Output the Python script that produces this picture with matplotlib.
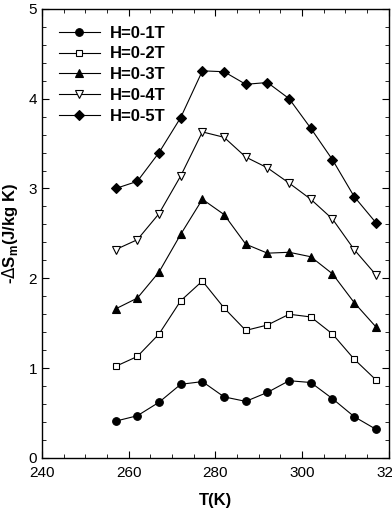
import numpy as np
import matplotlib.pyplot as plt
from matplotlib.ticker import MultipleLocator

plt.rcParams['font.family'] = ['Liberation Sans', 'DejaVu Sans']

# temperatures (K)
T = [257, 262, 267, 272, 277, 282, 287, 292, 297, 302, 307, 312, 317]

# -dS_m (J/kg K) for each field change
s1 = [0.41, 0.47, 0.62, 0.82, 0.85, 0.68, 0.63, 0.73, 0.86, 0.84, 0.66, 0.46, 0.32]
s2 = [1.02, 1.13, 1.38, 1.75, 1.97, 1.67, 1.42, 1.48, 1.60, 1.57, 1.38, 1.10, 0.87]
s3 = [1.66, 1.78, 2.07, 2.49, 2.88, 2.71, 2.38, 2.28, 2.29, 2.24, 2.05, 1.73, 1.46]
s4 = [2.32, 2.43, 2.72, 3.14, 3.63, 3.57, 3.35, 3.23, 3.06, 2.88, 2.66, 2.32, 2.04]
s5 = [3.00, 3.08, 3.40, 3.79, 4.31, 4.30, 4.16, 4.18, 4.00, 3.67, 3.32, 2.91, 2.62]

labels = ['H=0-1T', 'H=0-2T', 'H=0-3T', 'H=0-4T', 'H=0-5T']

fig = plt.figure(figsize=(3.92, 5.21), dpi=100)
ax = fig.add_axes([0.107, 0.121, 0.885, 0.862])

styles = [
    dict(marker='o', mfc='black', ms=5.5),
    dict(marker='s', mfc='white', ms=4.5),
    dict(marker='^', mfc='black', ms=5.5),
    dict(marker='v', mfc='white', ms=5.5),
    dict(marker='D', mfc='black', ms=5),
]
for s, lab, st in zip([s1, s2, s3, s4, s5], labels, styles):
    ax.plot(T, s, color='black', lw=0.8, mec='black', mew=0.8, label=lab, **st)

ax.set_xlim(240, 320)
ax.set_ylim(0, 5)
ax.xaxis.set_major_locator(MultipleLocator(20))
ax.xaxis.set_minor_locator(MultipleLocator(5))
ax.yaxis.set_major_locator(MultipleLocator(1))
ax.yaxis.set_minor_locator(MultipleLocator(0.2))
ax.tick_params(which='both', direction='in', top=True, right=True, labelsize=11)
ax.tick_params(which='major', length=5)
ax.tick_params(which='minor', length=3)
ax.tick_params(axis='x', pad=6)
for sp in ax.spines.values():
    sp.set_linewidth(1.0)

ax.set_xlabel('T(K)', fontsize=12, fontweight='bold', labelpad=9)
ax.set_ylabel(r'-$\Delta$S$_\mathregular{m}$(J/kg K)', fontsize=12, fontweight='bold', labelpad=6)

leg = ax.legend(loc='upper left', frameon=False, fontsize=12, handlelength=2.5,
                labelspacing=0.35, borderaxespad=0.6, handletextpad=0.6)
for t in leg.get_texts():
    t.set_fontweight('bold')

plt.savefig('out.png', dpi=100)
